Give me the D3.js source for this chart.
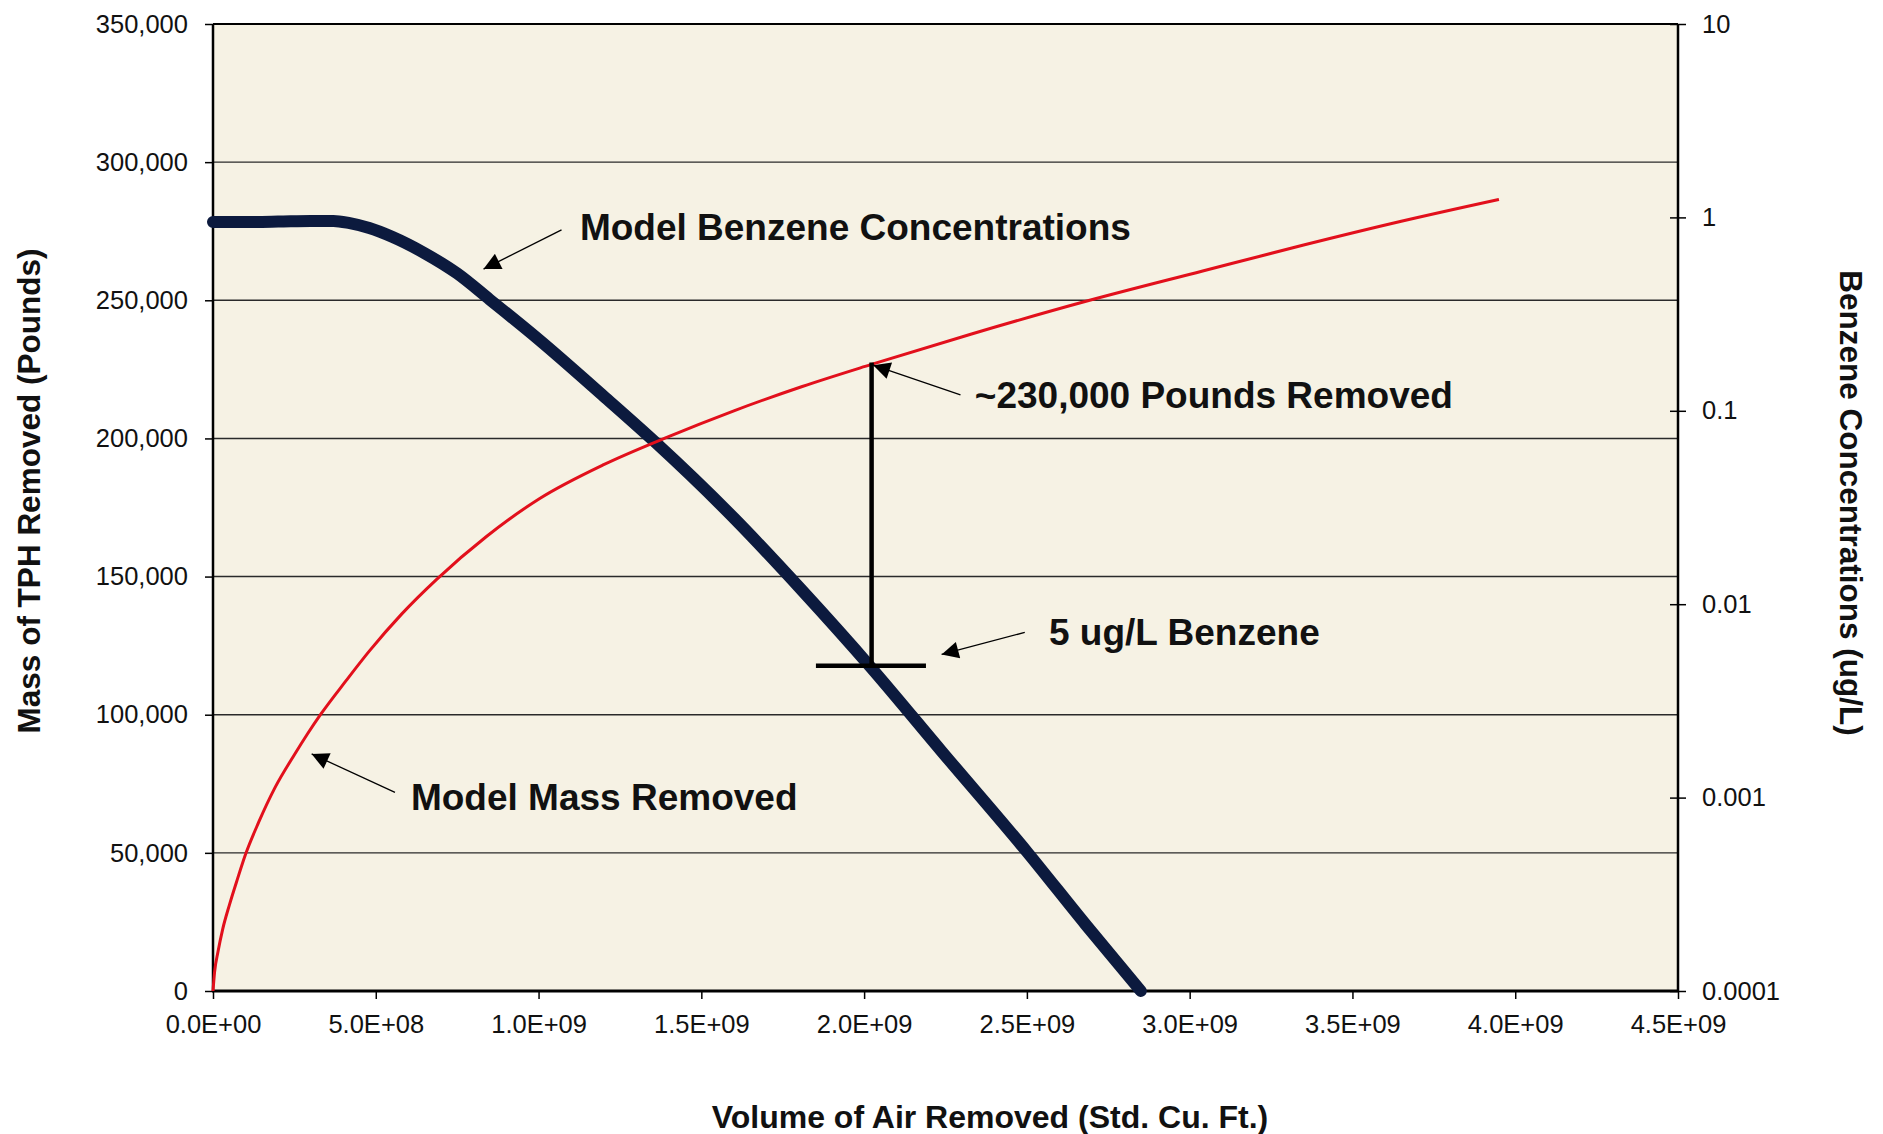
<!DOCTYPE html>
<html>
<head>
<meta charset="utf-8">
<script src="https://cdn.jsdelivr.net/npm/d3@7"></script>
<style>
  body { margin: 0; background: #fff; }
  svg text { font-family: "Liberation Sans", Arial, sans-serif; fill: #111; }
</style>
</head>
<body>
<div id="chart"></div>
<script>
// x axis: volume of air removed
const volumeTicks = [0, 5e8, 1e9, 1.5e9, 2e9, 2.5e9, 3e9, 3.5e9, 4e9, 4.5e9];
// left axis: mass removed
const massTicks = [0, 50000, 100000, 150000, 200000, 250000, 300000, 350000];
// right axis: benzene concentration (log)
const concTicks = [0.0001, 0.001, 0.01, 0.1, 1, 10];

// Model Mass Removed (red)
const massVolume = [0, 5e6, 1.5e7, 3e7, 5e7, 7.5e7, 1e8, 1.4e8, 1.9e8, 2.5e8, 2.9e8, 3.3e8, 4.1e8, 4.8e8, 5.8e8, 6.87e8, 8.4e8, 1e9, 1.2e9, 1.39e9, 1.6e9, 1.81e9, 2.02e9, 2.33e9, 2.69e9, 3.04e9, 3.35e9, 3.65e9, 3.95e9];
const massPounds = [0, 7000, 14000, 22500, 31000, 40500, 49500, 61000, 73500, 85500, 93000, 100000, 112500, 123000, 136500, 149000, 164500, 178000, 190500, 200200, 210000, 218800, 226700, 237800, 249900, 260600, 270000, 278600, 286500];

// Model Benzene Concentrations (navy)
const benzeneVolume = [0, 1e8, 2e8, 3e8, 3.7e8, 4.2e8, 4.8e8, 5.5e8, 6.5e8, 7.5e8, 8.5e8, 1e9, 1.2e9, 1.36e9, 1.6e9, 1.81e9, 2.02e9, 2.24e9, 2.5e9, 2.68e9, 2.85e9];
const benzeneConc = [0.946, 0.946, 0.951, 0.959, 0.959, 0.933, 0.881, 0.794, 0.653, 0.513, 0.376, 0.234, 0.119, 0.0684, 0.0279, 0.01175, 0.00473, 0.00172, 0.000525, 0.000221, 0.0001];

// annotation labels: [volume, pounds at baseline]
const labelTexts = ["Model Benzene Concentrations", "Model Mass Removed", "~230,000 Pounds Removed", "5 ug/L Benzene"];
const labelVolume = [1.127e9, 6.08e8, 2.34e9, 2.568e9];
const labelPounds = [271800, 65400, 211000, 125200];

// arrows: start -> tip, in [volume, pounds]
const arrowFrom = [[1.0706e9, 275500], [5.59e8, 71900], [2.296e9, 215800], [2.4935e9, 129800]];
const arrowTo = [[8.31e8, 261300], [3.03e8, 85800], [2.028e9, 226500], [2.238e9, 121800]];

// removal bracket
const bracketVolume = 2.023e9;
const bracketTopPounds = 227500;
const bracketConc = 0.0048;
const bracketSpan = [1.852e9, 2.19e9];

const margin = { top: 24, right: 205, bottom: 143, left: 213 },
    width = 1883 - margin.left - margin.right,
    height = 1134 - margin.top - margin.bottom;

const svgRoot = d3.select("#chart")
    .append("svg")
    .attr("width", 1883)
    .attr("height", 1134);

const defs = svgRoot.append("defs");
defs.append("marker")
    .attr("id", "head")
    .attr("viewBox", "0 0 10 10")
    .attr("refX", 10)
    .attr("refY", 5)
    .attr("markerUnits", "userSpaceOnUse")
    .attr("markerWidth", 22)
    .attr("markerHeight", 17)
    .attr("orient", "auto")
    .append("path")
    .attr("d", "M0,0 L10,5 L0,10 z")
    .attr("fill", "#000");

const svg = svgRoot.append("g")
    .attr("transform", `translate(${margin.left},${margin.top})`);

const x = d3.scaleLinear().domain([0, 4.5e9]).range([0, width]);
const yMass = d3.scaleLinear().domain([0, 350000]).range([height, 0]);
const yConc = d3.scaleLog().domain([0.0001, 10]).range([height, 0]);

// plot background
svg.append("rect")
    .attr("width", width)
    .attr("height", height)
    .attr("fill", "#f6f2e4");

// gridlines
svg.append("g")
    .selectAll("line")
    .data(massTicks.filter(d => d > 0 && d < 350000))
    .enter()
    .append("line")
    .attr("x1", 0)
    .attr("x2", width)
    .attr("y1", d => yMass(d))
    .attr("y2", d => yMass(d))
    .attr("stroke", "#2a2a2a")
    .attr("stroke-width", 1.4);

function sci(v) {
    if (v === 0) return "0.0E+00";
    const e = Math.floor(Math.log10(v) + 1e-9);
    const m = (v / Math.pow(10, e)).toFixed(1);
    return `${m}E+${String(e).padStart(2, "0")}`;
}

const xAxis = svg.append("g")
    .attr("transform", `translate(0,${height})`)
    .call(d3.axisBottom(x).tickValues(volumeTicks).tickFormat(sci).tickSize(8).tickPadding(16));

const leftAxis = svg.append("g")
    .call(d3.axisLeft(yMass).tickValues(massTicks).tickFormat(d3.format(",")).tickSize(8).tickPadding(17));

const rightAxis = svg.append("g")
    .attr("transform", `translate(${width},0)`)
    .call(d3.axisRight(yConc).tickValues(concTicks).tickFormat(d => String(d)).tickSize(8).tickPadding(16));

rightAxis.selectAll(".tick line").attr("x1", -8);

[xAxis, leftAxis, rightAxis].forEach(g => {
    g.select(".domain").remove();
    g.selectAll(".tick line").attr("stroke", "#000").attr("stroke-width", 1.5);
    g.selectAll("text")
        .attr("font-size", "25.5px")
        .style("font-family", "'Liberation Sans', Arial, sans-serif")
        .attr("fill", "#111");
});

// frame
svg.append("line").attr("x1", 0).attr("x2", width).attr("y1", 0).attr("y2", 0)
    .attr("stroke", "#000").attr("stroke-width", 2.2);
svg.append("line").attr("x1", 0).attr("x2", 0).attr("y1", 0).attr("y2", height)
    .attr("stroke", "#000").attr("stroke-width", 2.5);
svg.append("line").attr("x1", width).attr("x2", width).attr("y1", 0).attr("y2", height)
    .attr("stroke", "#000").attr("stroke-width", 2.5);
svg.append("line").attr("x1", -1).attr("x2", width + 1).attr("y1", height).attr("y2", height)
    .attr("stroke", "#000").attr("stroke-width", 3);

// series
const massData = massVolume.map((v, i) => ({ v, p: massPounds[i] }));
const benzData = benzeneVolume.map((v, i) => ({ v, c: benzeneConc[i] }));

svg.append("path")
    .datum(benzData)
    .attr("fill", "none")
    .attr("stroke", "#0c1a3e")
    .attr("stroke-width", 12)
    .attr("stroke-linecap", "round")
    .attr("stroke-linejoin", "round")
    .attr("d", d3.line().x(d => x(d.v)).y(d => yConc(d.c)).curve(d3.curveMonotoneX));

svg.append("path")
    .datum(massData)
    .attr("fill", "none")
    .attr("stroke", "#e2101c")
    .attr("stroke-width", 3)
    .attr("d", d3.line().x(d => x(d.v)).y(d => yMass(d.p)).curve(d3.curveMonotoneX));

// bracket showing mass removed at 5 ug/L
svg.append("line")
    .attr("x1", x(bracketVolume)).attr("x2", x(bracketVolume))
    .attr("y1", yMass(bracketTopPounds)).attr("y2", yConc(bracketConc))
    .attr("stroke", "#000").attr("stroke-width", 4.5);
svg.append("line")
    .attr("x1", x(bracketSpan[0])).attr("x2", x(bracketSpan[1]))
    .attr("y1", yConc(bracketConc)).attr("y2", yConc(bracketConc))
    .attr("stroke", "#000").attr("stroke-width", 4.5);

// arrows
svg.append("g")
    .selectAll("line")
    .data(arrowFrom)
    .enter()
    .append("line")
    .attr("x1", d => x(d[0]))
    .attr("y1", d => yMass(d[1]))
    .attr("x2", (d, i) => x(arrowTo[i][0]))
    .attr("y2", (d, i) => yMass(arrowTo[i][1]))
    .attr("stroke", "#000")
    .attr("stroke-width", 1.3)
    .attr("marker-end", "url(#head)");

// labels
svg.append("g")
    .selectAll("text")
    .data(labelTexts)
    .enter()
    .append("text")
    .attr("x", (d, i) => x(labelVolume[i]))
    .attr("y", (d, i) => yMass(labelPounds[i]))
    .attr("font-size", "37px")
    .attr("font-weight", "bold")
    .text(d => d);

// axis titles
svgRoot.append("text")
    .attr("transform", "translate(40,491) rotate(-90)")
    .attr("text-anchor", "middle")
    .attr("font-size", "31.5px")
    .attr("font-weight", "bold")
    .text("Mass of TPH Removed (Pounds)");

svgRoot.append("text")
    .attr("transform", "translate(1840,503) rotate(90)")
    .attr("text-anchor", "middle")
    .attr("font-size", "31.5px")
    .attr("font-weight", "bold")
    .text("Benzene Concentrations (ug/L)");

svgRoot.append("text")
    .attr("x", 990)
    .attr("y", 1128)
    .attr("text-anchor", "middle")
    .attr("font-size", "32px")
    .attr("font-weight", "bold")
    .text("Volume of Air Removed (Std. Cu. Ft.)");
</script>
</body>
</html>
